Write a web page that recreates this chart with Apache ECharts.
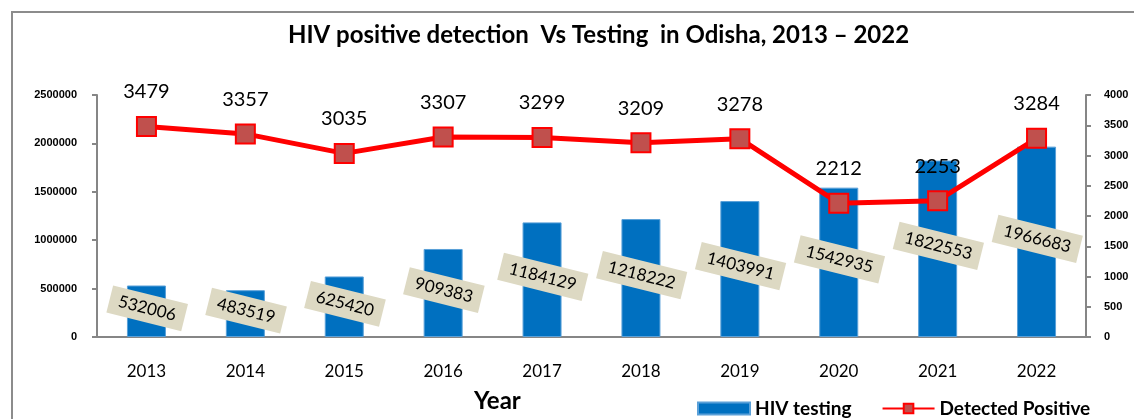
<!DOCTYPE html>
<html style="height: 100%">
  <head>
    <meta charset="utf-8" />
  </head>
  <body style="height: 100%; margin: 0; background: #fff">
    <div id="container" style="width: 1134px; height: 419px"></div>

    <script
      type="text/javascript"
      src="https://cdn.jsdelivr.net/npm/echarts@6/dist/echarts.min.js"
    ></script>

    <script type="text/javascript">
      var years = ["2013", "2014", "2015", "2016", "2017", "2018", "2019", "2020", "2021", "2022"];
      var hivTesting = [532006, 483519, 625420, 909383, 1184129, 1218222, 1403991, 1542935, 1822553, 1966683];
      var detectedPositive = [3479, 3357, 3035, 3307, 3299, 3209, 3278, 2212, 2253, 3284];

      var font = "Lato, 'Open Sans', sans-serif";
      var dom = document.getElementById("container");
      var myChart = echarts.init(dom);

      // plain numbers on both value axes, no thousands separators
      function plain(v) {
        return String(v);
      }

      var option = {
        backgroundColor: "#fff",
        animation: false,
        title: {
          text: "HIV positive detection  Vs Testing  in Odisha, 2013 \u2013 2022",
          left: 283,
          top: 18,
          textStyle: {
            fontFamily: font,
            fontSize: 24,
            fontWeight: "bold",
            color: "#000",
          },
        },
        graphic: [
          {
            type: "rect",
            shape: { x: 12, y: 12, width: 1300, height: 600 },
            style: { fill: "none", stroke: "#8c8c8c", lineWidth: 2 },
            silent: true,
          },
          {
            type: "text",
            left: 474,
            top: 389,
            style: {
              text: "Year",
              font: "bold 24px " + font,
              fill: "#000",
            },
          },
        ],
        legend: {
          left: 692,
          top: 394,
          itemGap: 30,
          itemWidth: 52,
          itemHeight: 12,
          textStyle: {
            fontFamily: font,
            fontSize: 19,
            fontWeight: "bold",
            color: "#000",
          },
          data: [
            { name: "HIV testing", icon: "rect" },
            { name: "Detected Positive" },
          ],
        },
        grid: {
          left: 97,
          right: 48,
          top: 95,
          bottom: 82,
        },
        xAxis: {
          type: "category",
          data: years,
          axisLine: { lineStyle: { color: "#868686", width: 2 } },
          axisTick: { length: 5, lineStyle: { color: "#868686", width: 2 } },
          axisLabel: {
            margin: 26,
            fontFamily: font,
            fontSize: 17,
            color: "#000",
          },
        },
        yAxis: [
          {
            type: "value",
            min: 0,
            max: 2500000,
            interval: 500000,
            splitLine: { show: false },
            axisLine: { show: true, lineStyle: { color: "#868686", width: 2 } },
            axisTick: { show: true, length: 5, lineStyle: { color: "#868686", width: 2 } },
            axisLabel: {
              margin: 20,
              formatter: plain,
              fontFamily: "'Liberation Sans', Arial, sans-serif",
              fontSize: 11,
              fontWeight: "bold",
              color: "#000",
            },
          },
          {
            type: "value",
            min: 0,
            max: 4000,
            interval: 500,
            splitLine: { show: false },
            axisLine: { show: true, lineStyle: { color: "#868686", width: 2 } },
            axisTick: { show: true, length: 5, lineStyle: { color: "#868686", width: 2 } },
            axisLabel: {
              margin: 18,
              formatter: plain,
              fontFamily: "'Liberation Sans', Arial, sans-serif",
              fontSize: 11,
              fontWeight: "bold",
              color: "#000",
            },
          },
        ],
        series: [
          {
            name: "HIV testing",
            type: "bar",
            yAxisIndex: 0,
            barWidth: 39,
            data: hivTesting,
            itemStyle: {
              color: "#0070c0",
              borderColor: "#5aa0d8",
              borderWidth: 1,
            },
            label: {
              show: true,
              position: "inside",
              offset: [0, -3],
              rotate: -14,
              fontFamily: font,
              fontSize: 17,
              color: "#000",
              backgroundColor: "#ddd9c3",
              padding: [6, 9, 5, 9],
            },
            z: 2,
          },
          {
            name: "Detected Positive",
            type: "line",
            yAxisIndex: 1,
            data: detectedPositive,
            symbol: "rect",
            symbolSize: 19,
            lineStyle: { color: "#ff0000", width: 5 },
            itemStyle: {
              color: "#c0504d",
              borderColor: "#ff0000",
              borderWidth: 2,
            },
            label: {
              show: true,
              position: "top",
              distance: 14,
              fontFamily: font,
              fontSize: 20,
              color: "#000",
            },
            z: 3,
          },
        ],
      };

      option && myChart.setOption(option);
    </script>
  </body>
</html>
